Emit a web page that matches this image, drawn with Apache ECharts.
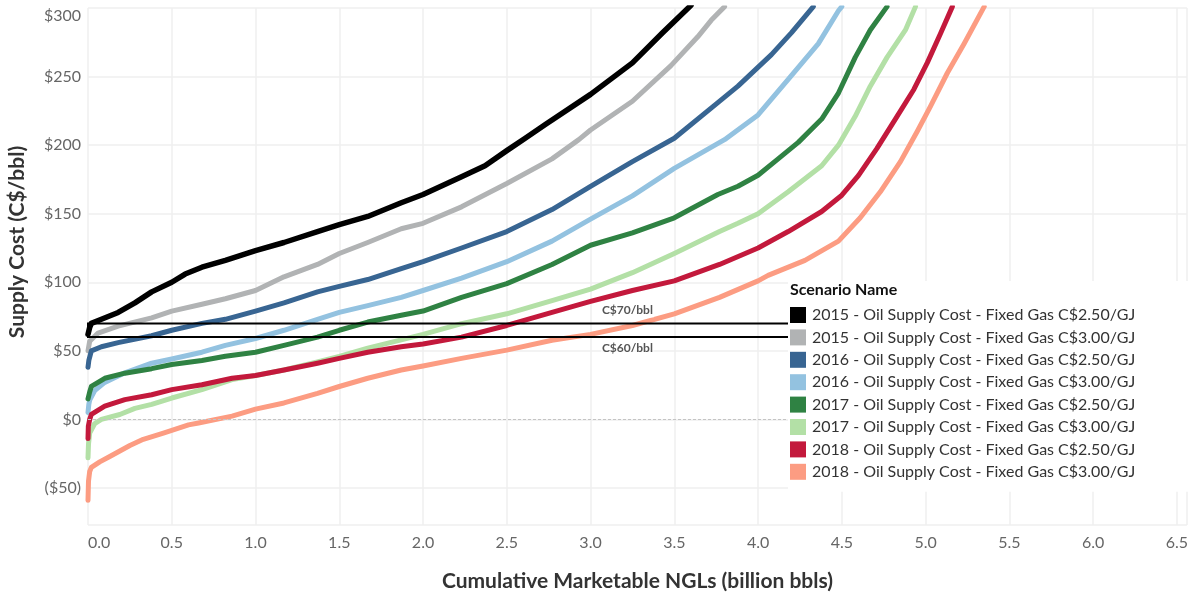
<!DOCTYPE html>
<html>
<head>
<meta charset="utf-8">
<script src="https://cdn.jsdelivr.net/npm/echarts@6/dist/echarts.min.js"></script>
<style>
html,body{margin:0;padding:0;background:#fff;}
#chart{width:1191px;height:597px;}
</style>
</head>
<body>
<div id="chart"></div>
<script>
// ---- Data (x = cumulative marketable NGLs, billion bbls; y = supply cost C$/bbl) ----
const seriesNames = [
  '2015 - Oil Supply Cost - Fixed Gas C$2.50/GJ',
  '2015 - Oil Supply Cost - Fixed Gas C$3.00/GJ',
  '2016 - Oil Supply Cost - Fixed Gas C$2.50/GJ',
  '2016 - Oil Supply Cost - Fixed Gas C$3.00/GJ',
  '2017 - Oil Supply Cost - Fixed Gas C$2.50/GJ',
  '2017 - Oil Supply Cost - Fixed Gas C$3.00/GJ',
  '2018 - Oil Supply Cost - Fixed Gas C$2.50/GJ',
  '2018 - Oil Supply Cost - Fixed Gas C$3.00/GJ'
];
const seriesColors = ['#000000','#b1b3b4','#386592','#93c2e0','#2f8243','#b3e0a6','#c3193c','#fc9c82'];

const s2015_250 = [[0,62],[0.01,67],[0.02,70],[0.08,73],[0.18,78],[0.28,85],[0.38,93],[0.5,100],[0.58,106],[0.68,111],[0.82,116],[1.0,123],[1.17,129],[1.37,137],[1.5,142],[1.67,148],[1.87,158],[2.0,164],[2.23,177],[2.37,185],[2.5,196],[2.61,205],[2.73,215],[3.0,237],[3.25,260],[3.43,282],[3.6,302]];
const s2015_300 = [[0,50],[0.01,57],[0.06,63],[0.18,68],[0.38,74],[0.5,79],[0.68,84],[0.82,88],[1.0,94],[1.17,104],[1.37,113],[1.5,121],[1.67,129],[1.87,139],[2.0,143],[2.23,155],[2.5,172],[2.77,190],[2.93,204],[3.0,211],[3.25,232],[3.48,258],[3.64,279],[3.72,291],[3.8,301]];
const s2016_250 = [[0,38],[0.005,43],[0.02,50],[0.08,53],[0.18,56],[0.38,61],[0.5,65],[0.68,70],[0.82,73],[1.0,79],[1.17,85],[1.37,93],[1.5,97],[1.67,102],[1.87,110],[2.0,115],[2.23,125],[2.5,137],[2.77,153],[3.0,170],[3.25,188],[3.5,205],[3.76,231],[3.88,243],[4.08,266],[4.2,282],[4.33,301]];
const s2016_300 = [[0,5],[0.005,11],[0.01,14],[0.04,21],[0.1,27],[0.22,34],[0.38,41],[0.5,44],[0.68,49],[0.82,54],[1.0,59],[1.17,65],[1.37,73],[1.5,78],[1.67,83],[1.87,89],[2.0,94],[2.23,103],[2.5,115],[2.77,130],[3.0,146],[3.25,163],[3.5,183],[3.8,204],[4.0,222],[4.18,248],[4.36,274],[4.48,298],[4.5,301]];
const s2017_250 = [[0,15],[0.01,20],[0.02,24],[0.1,30],[0.22,33.7],[0.38,37],[0.5,40],[0.68,43],[0.82,46],[1.0,49],[1.17,54],[1.37,60],[1.5,65],[1.67,71],[1.87,76],[2.0,79],[2.23,89],[2.5,99],[2.77,113],[3.0,127],[3.25,136],[3.5,147],[3.76,164],[3.88,170],[4.0,178],[4.12,190],[4.24,202],[4.38,219],[4.48,238],[4.58,264],[4.67,284],[4.77,301]];
const s2017_300 = [[0,-28],[0.003,-18],[0.01,-10],[0.04,-3],[0.08,0],[0.19,3.6],[0.28,8],[0.38,11],[0.5,15.6],[0.68,21.7],[0.86,29],[1.0,32],[1.17,36],[1.37,42],[1.5,46],[1.67,52],[1.87,58],[2.0,62],[2.23,69.8],[2.5,77],[2.77,86.6],[3.0,95],[3.25,107],[3.5,121],[3.77,137],[3.88,143],[4.0,150],[4.18,166],[4.38,185],[4.48,200],[4.58,221],[4.67,243],[4.77,264],[4.88,284],[4.94,301]];
const s2018_250 = [[0,-14],[0.002,-5],[0.01,0],[0.02,3.6],[0.1,9.6],[0.22,14.4],[0.38,18],[0.5,21.7],[0.68,25.3],[0.86,30],[1.0,32],[1.17,36],[1.37,41],[1.5,44.5],[1.67,49],[1.87,53],[2.0,55],[2.23,60],[2.5,68.5],[2.77,78],[3.0,86],[3.25,94],[3.5,101],[3.77,113],[4.0,125],[4.18,137],[4.38,151.6],[4.5,163.5],[4.6,178],[4.71,197.6],[4.83,221],[4.93,240.6],[5.01,260],[5.09,281.6],[5.16,301]];
const s2018_300 = [[0,-59],[0.003,-45],[0.01,-38],[0.02,-35],[0.07,-31],[0.13,-27],[0.25,-19],[0.33,-14.5],[0.45,-10],[0.6,-4],[0.66,-2.6],[0.86,2.4],[1.0,7.5],[1.17,12],[1.37,19],[1.5,24],[1.67,30],[1.87,36],[2.0,39],[2.23,44.5],[2.5,50.5],[2.77,57.7],[3.0,62],[3.25,68.5],[3.5,77],[3.77,89],[4.0,101],[4.06,105],[4.28,116],[4.48,130],[4.61,147],[4.73,166],[4.85,188],[4.95,210],[5.03,228.5],[5.13,252.6],[5.23,274],[5.35,301]];
const seriesData = [s2015_250, s2015_300, s2016_250, s2016_300, s2017_250, s2017_300, s2018_250, s2018_300];

// reference prices (C$/bbl)
const refHigh = 70;
const refLow = 60;
const refLabels = ['C$70/bbl', 'C$60/bbl'];
const refLabelSpanX = [0, 6.44];

const xMin = 0, xMax = 6.56;
const yMin = -77, yMax = 300;

const FONT = 'Lato, "Noto Sans", sans-serif';

const chart = echarts.init(document.getElementById('chart'), null, {renderer: 'canvas'});

const lineSeries = seriesNames.map((name, i) => ({
  name: name,
  type: 'line',
  data: seriesData[i],
  showSymbol: false,
  symbol: 'none',
  smooth: false,
  clip: true,
  color: seriesColors[i],
  lineStyle: {width: i === 0 ? 5.5 : 5, color: seriesColors[i], cap: 'round', join: 'round'},
  emphasis: {disabled: true},
  z: 2
}));

const refLabelStyle = {
  show: true, color: '#555', fontFamily: FONT, fontWeight: 'bold', fontSize: 12,
  backgroundColor: 'rgba(255,255,255,0.55)', padding: [1, 1]
};

const refSeries = {
  name: 'ref',
  type: 'line',
  data: [],
  z: 3,
  silent: true,
  markArea: {
    silent: true,
    z: 3,
    itemStyle: {color: 'rgba(0,0,0,0)', borderColor: '#000', borderWidth: 2},
    data: [[{yAxis: refHigh}, {yAxis: refLow}]]
  },
  markLine: {
    silent: true,
    z: 3,
    symbol: ['none', 'none'],
    animation: false,
    data: [
      [{coord: [refLabelSpanX[0], refHigh], lineStyle: {color: 'rgba(0,0,0,0)', width: 0},
        label: Object.assign({}, refLabelStyle, {formatter: refLabels[0], position: 'insideMiddleTop', distance: 6})},
       {coord: [refLabelSpanX[1], refHigh]}],
      [{coord: [refLabelSpanX[0], refLow], lineStyle: {color: 'rgba(0,0,0,0)', width: 0},
        label: Object.assign({}, refLabelStyle, {formatter: refLabels[1], position: 'insideMiddleBottom', distance: 4})},
       {coord: [refLabelSpanX[1], refLow]}],
      {yAxis: 0, lineStyle: {type: [3, 2], color: '#c4c4c4', width: 1, opacity: 1}, label: {show: false}}
    ]
  }
};

const option = {
  backgroundColor: '#ffffff',
  animation: false,
  textStyle: {fontFamily: FONT},
  grid: {left: 88, right: 0, top: 8, bottom: 67, containLabel: false},
  title: {
    text: 'Scenario Name',
    left: 790, top: 282,
    padding: 0,
    textStyle: {fontFamily: FONT, fontSize: 16, fontWeight: 'bold', color: '#111'},
    z: 12
  },
  legend: {
    data: seriesNames,
    orient: 'vertical',
    left: 788, top: 281,
    padding: [26, 90, 12, 2],
    backgroundColor: '#ffffff',
    itemWidth: 16, itemHeight: 16, itemGap: 6.4,
    icon: 'rect',
    selectedMode: false,
    textStyle: {fontFamily: FONT, fontSize: 16, color: '#333', lineHeight: 16, padding: [0, 0, 0, 1]},
    z: 10
  },
  xAxis: {
    type: 'value',
    min: xMin, max: xMax,
    splitNumber: 13,
    name: 'Cumulative Marketable NGLs (billion bbls)',
    nameLocation: 'middle',
    nameGap: 46,
    nameTextStyle: {fontFamily: FONT, fontSize: 21, fontWeight: 'bold', color: '#333'},
    axisLine: {show: false},
    axisTick: {show: false},
    axisLabel: {
      formatter: v => v.toFixed(1),
      color: '#666', fontSize: 16, fontFamily: FONT, margin: 10,
      showMaxLabel: false, alignMinLabel: 'left'
    },
    splitLine: {show: true, lineStyle: {color: '#efefef', width: 1.5}}
  },
  yAxis: {
    type: 'value',
    min: yMin, max: yMax,
    splitNumber: 8,
    axisLine: {show: false},
    axisTick: {show: false},
    axisLabel: {
      formatter: v => v < 0 ? '($' + Math.abs(v) + ')' : '$' + v,
      color: '#666', fontSize: 16, fontFamily: FONT, margin: 7,
      showMinLabel: false, verticalAlignMaxLabel: 'top'
    },
    splitLine: {show: true, lineStyle: {color: '#efefef', width: 1.5}}
  },
  graphic: [{
    type: 'text',
    x: 17, y: 242,
    rotation: Math.PI / 2,
    style: {
      text: 'Supply Cost (C$/bbl)',
      font: 'bold 21px Lato, "Noto Sans", sans-serif',
      fill: '#333',
      align: 'center',
      verticalAlign: 'middle'
    }
  }],
  series: lineSeries.concat([refSeries])
};

chart.setOption(option);
</script>
</body>
</html>
